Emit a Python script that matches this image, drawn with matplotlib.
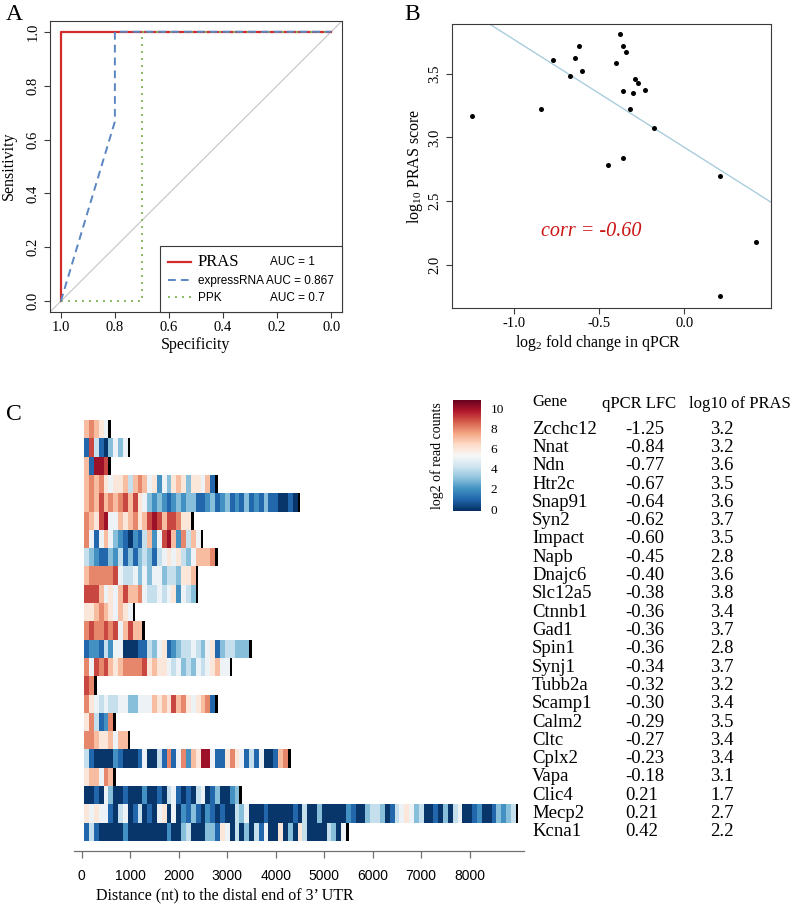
import numpy as np
import matplotlib
matplotlib.use("Agg")
import matplotlib.pyplot as plt
from matplotlib import transforms

plt.rcParams["font.family"] = ["Liberation Serif", "DejaVu Serif"]
plt.rcParams["mathtext.default"] = "regular"
SANS = ["Liberation Sans", "DejaVu Sans"]

W, H = 792, 906

# ---------------- data ----------------
# panel A: ROC curves, (specificity, sensitivity) vertices
roc_names = ["PRAS", "expressRNA", "PPK"]
roc_auc = ["1", "0.867", "0.7"]
roc_spec = [[1.0, 1.0, 0.0], [1.0, 0.8, 0.8, 0.0], [1.0, 0.7, 0.7, 0.0]]
roc_sens = [[0.0, 1.0, 1.0], [0.0, 0.667, 1.0, 1.0], [0.0, 0.0, 1.0, 1.0]]

# panel B / table
genes = ["Zcchc12", "Nnat", "Ndn", "Htr2c", "Snap91", "Syn2", "Impact", "Napb",
         "Dnajc6", "Slc12a5", "Ctnnb1", "Gad1", "Spin1", "Synj1", "Tubb2a",
         "Scamp1", "Calm2", "Cltc", "Cplx2", "Vapa", "Clic4", "Mecp2", "Kcna1"]
qpcr_lfc = [-1.25, -0.84, -0.77, -0.67, -0.64, -0.62, -0.60, -0.45, -0.40, -0.38,
            -0.36, -0.36, -0.36, -0.34, -0.32, -0.30, -0.29, -0.27, -0.23, -0.18,
            0.21, 0.21, 0.42]
pras_table = ["3.2", "3.2", "3.6", "3.5", "3.6", "3.7", "3.5", "2.8", "3.6", "3.8",
              "3.4", "3.7", "2.8", "3.7", "3.2", "3.4", "3.5", "3.4", "3.4", "3.1",
              "1.7", "2.7", "2.2"]
# unrounded log10 PRAS
pras_log10 = [3.17, 3.22, 3.61, 3.48, 3.62, 3.72, 3.52, 2.78, 3.58, 3.81, 3.36,
              3.72, 2.84, 3.67, 3.22, 3.35, 3.46, 3.43, 3.375, 3.07, 1.755, 2.70,
              2.18]
corr_label = "corr = -0.60"

# panel C: log2 read counts per 100-nt bin ('a' = 10), one string per gene
BIN_START, BIN_NT, END_NT = 50, 100, 55
bin_codes = [
    "78765",
    "19410 3535",
    "71aa9",
    "78786 56674 78756 25367 63665 71",
    "78797 87897 96532 32123 23311 23123 12131 21311 0010",
    "8769a 55767 8679a 97998 66",
    "85157 53210 21472 59a72 8475",
    "43211 32413 13431 45656 43577 78",
    "78888 89544 53535 53443 667",
    "99975 65797 78544 54562 543",
    "66787 65765",
    "89889 89579 77",
    "12214 25500 01143 56123 44543 56134 4333",
    "85989 76788 88967 66545 34354 56755",
    "98",
    "86545 44553 35557 67697 86567 81",
    "68412 8",
    "88766 7577",
    "41000 02100 01500 41815 8276a a5116 86514 15001 78",
    "67758 7",
    "00105 30010 00200 10451 01045 01300 23",
    "65655 10450 14010 56050 21310 21010 04350 00100 00010 40030 00002 10034 "
    "43014 56534 00103 04500 12001 3234",
    "14100 00020 00000 00200 34000 33165 04030 41500 60306 40000 4305",
]
dist_ticks = [0, 1000, 2000, 3000, 4000, 5000, 6000, 7000, 8000]


def fx(px):
    return px / W


def fy(py):
    return 1 - py / H


fig = plt.figure(figsize=(W / 100, H / 100), dpi=100)

SPINE = "#3a3a3a"


def r_style(ax):
    for s in ax.spines.values():
        s.set_color(SPINE)
        s.set_linewidth(0.8)
    ax.tick_params(direction="out", length=4.5, width=0.8, color=SPINE,
                   labelsize=10.5)
    ax.tick_params(axis="x", pad=2)
    ax.tick_params(axis="y", pad=3)
    for t in ax.get_yticklabels():
        t.set_rotation(90)
        t.set_va("center")


# ---------------- panel A ----------------
axA = fig.add_axes([fx(50), fy(312), fx(292), 291 / H])
axA.axline((1, 0), (0, 1), color="#c4c4c4", lw=0.8, zorder=1)
styles = [dict(color="#d12b2b", lw=1.6, ls="-", zorder=3),
          dict(color="#5a86c2", lw=1.4, ls=(0, (4, 2.6)), zorder=5),
          dict(color="#86b95e", lw=1.4, ls=(0, (1, 2.6)), zorder=4)]
handles = []
for sp, se, st in zip(roc_spec, roc_sens, styles):
    handles.append(axA.plot(sp, se, **st)[0])
axA.set_xlim(1.04, -0.04)
axA.set_ylim(-0.04, 1.04)
ticksA = [1.0, 0.8, 0.6, 0.4, 0.2, 0.0]
axA.set_xticks(ticksA, [f"{v:.1f}" for v in ticksA])
axA.set_yticks(ticksA, [f"{v:.1f}" for v in ticksA])
r_style(axA)
labels = [roc_names[0], f"{roc_names[1]} AUC = {roc_auc[1]}", roc_names[2]]
leg = axA.legend(handles, labels, loc="lower right", borderaxespad=0,
                 fancybox=False, edgecolor=SPINE, framealpha=1,
                 prop=dict(family=SANS, size=8.5), handlelength=1.9,
                 handletextpad=0.6, labelspacing=0.4, borderpad=0.7)
leg.get_frame().set_linewidth(0.8)
leg.get_texts()[0].set_fontfamily(["Liberation Serif"])
leg.get_texts()[0].set_fontsize(12)

fig.text(fx(9), fy(166), "Sensitivity", rotation=90, ha="center", va="center",
         fontsize=11.5)
fig.text(fx(196), fy(345), "Specificity", ha="center", va="center", fontsize=11.5)
fig.text(fx(14), fy(14), "A", ha="center", va="center", fontsize=17)

# ---------------- panel B ----------------
axB = fig.add_axes([fx(452), fy(308), fx(319), 284 / H])
axB.scatter(qpcr_lfc, pras_log10, s=13, color="black", zorder=3, linewidths=0)
slope, intercept = np.polyfit(qpcr_lfc, pras_log10, 1)
axB.axline((0, intercept), slope=slope, color="#a9cddc", lw=1.0, zorder=2)
axB.set_xlim(-1.365, 0.51)
axB.set_ylim(1.66, 3.89)
axB.set_xticks([-1.0, -0.5, 0.0], ["-1.0", "-0.5", "0.0"])
axB.set_yticks([2.0, 2.5, 3.0, 3.5], ["2.0", "2.5", "3.0", "3.5"])
r_style(axB)
axB.text(-0.545, 2.26, corr_label, color="#cc1414", style="italic",
         fontsize=14.5, ha="center", va="center")
fig.text(fx(415), fy(166), "log$_{10}$ PRAS score", rotation=90, ha="center",
         va="center", fontsize=11.5)
fig.text(fx(598), fy(343), "log$_2$ fold change in qPCR", ha="center",
         va="center", fontsize=11.5)
fig.text(fx(412), fy(14), "B", ha="center", va="center", fontsize=17)

# ---------------- panel C ----------------
axC = fig.add_axes([fx(74), fy(851), fx(450), (851 - 420) / H])
codes = [s.replace(" ", "") for s in bin_codes]
nbin = max(len(s) for s in codes)
grid = np.full((len(codes), nbin), np.nan)
for i, s in enumerate(codes):
    grid[i, :len(s)] = [int(c, 16) for c in s]
xedges = BIN_START + BIN_NT * np.arange(nbin + 1)
yedges = np.arange(len(codes) + 1)
mesh = axC.pcolormesh(xedges, yedges, np.ma.masked_invalid(grid),
                      cmap="RdBu_r", vmin=-0.15, vmax=10.8, shading="flat",
                      antialiased=False)
ends = [BIN_START + BIN_NT * len(s) for s in codes]
axC.barh(np.arange(len(codes)) + 0.5, END_NT, left=ends, height=1.0,
         color="black")
axC.set_xlim(-160, 9120)
axC.set_ylim(len(codes) + 10 / 18.3, 0)
for k in ["left", "right", "top"]:
    axC.spines[k].set_visible(False)
axC.spines["bottom"].set_color("#707070")
axC.spines["bottom"].set_linewidth(0.9)
axC.set_yticks([])
axC.set_xticks(dist_ticks, [str(v) for v in dist_ticks])
axC.tick_params(axis="x", direction="out", length=5, width=0.9,
                color="#707070", pad=8)
for t in axC.get_xticklabels():
    t.set_fontfamily(SANS)
    t.set_fontsize(10)
fig.text(fx(225), fy(895), "Distance (nt) to the distal end of 3\u2019 UTR",
         ha="center", va="center", fontsize=11.5)
fig.text(fx(14), fy(415), "C", ha="center", va="center", fontsize=17)

# colour bar
cax = fig.add_axes([fx(453), fy(510.7), fx(28), 110.7 / H])
cb = fig.colorbar(mesh, cax=cax, ticks=[0, 2, 4, 6, 8, 10])
cb.outline.set_visible(False)
cax.tick_params(length=0, pad=7, labelsize=9.5)
fig.text(fx(437), fy(456), "log2 of read counts", rotation=90, ha="center",
         va="center", fontsize=10)

# table next to the heat map, rows aligned with heat-map rows
tr = transforms.blended_transform_factory(fig.transFigure, axC.transData)
hy = -0.9
fig.text(fx(532), hy - 0.1, "Gene", transform=tr, fontsize=12, va="center")
fig.text(fx(602), hy, "qPCR LFC", transform=tr, fontsize=12, va="center")
fig.text(fx(689), hy, "log10 of PRAS", transform=tr, fontsize=12, va="center")
for i, (g, l, p) in enumerate(zip(genes, qpcr_lfc, pras_table)):
    y = i + 0.5
    fig.text(fx(532), y, g, transform=tr, fontsize=13.5, va="center")
    fig.text(fx(625), y, f"{l:.2f}", transform=tr, fontsize=13.5, va="center")
    fig.text(fx(710), y, p, transform=tr, fontsize=13.5, va="center")

# AUC values beside the legend rows
fig.canvas.draw()
for k in (0, 2):
    bb = leg.get_texts()[k].get_window_extent()
    yc = (bb.y0 + bb.y1) / 2 / fig.bbox.height
    fig.text(fx(270), yc, f"AUC = {roc_auc[k]}", fontfamily=SANS, fontsize=8.5,
             va="center")

fig.savefig("out.png", dpi=100)
